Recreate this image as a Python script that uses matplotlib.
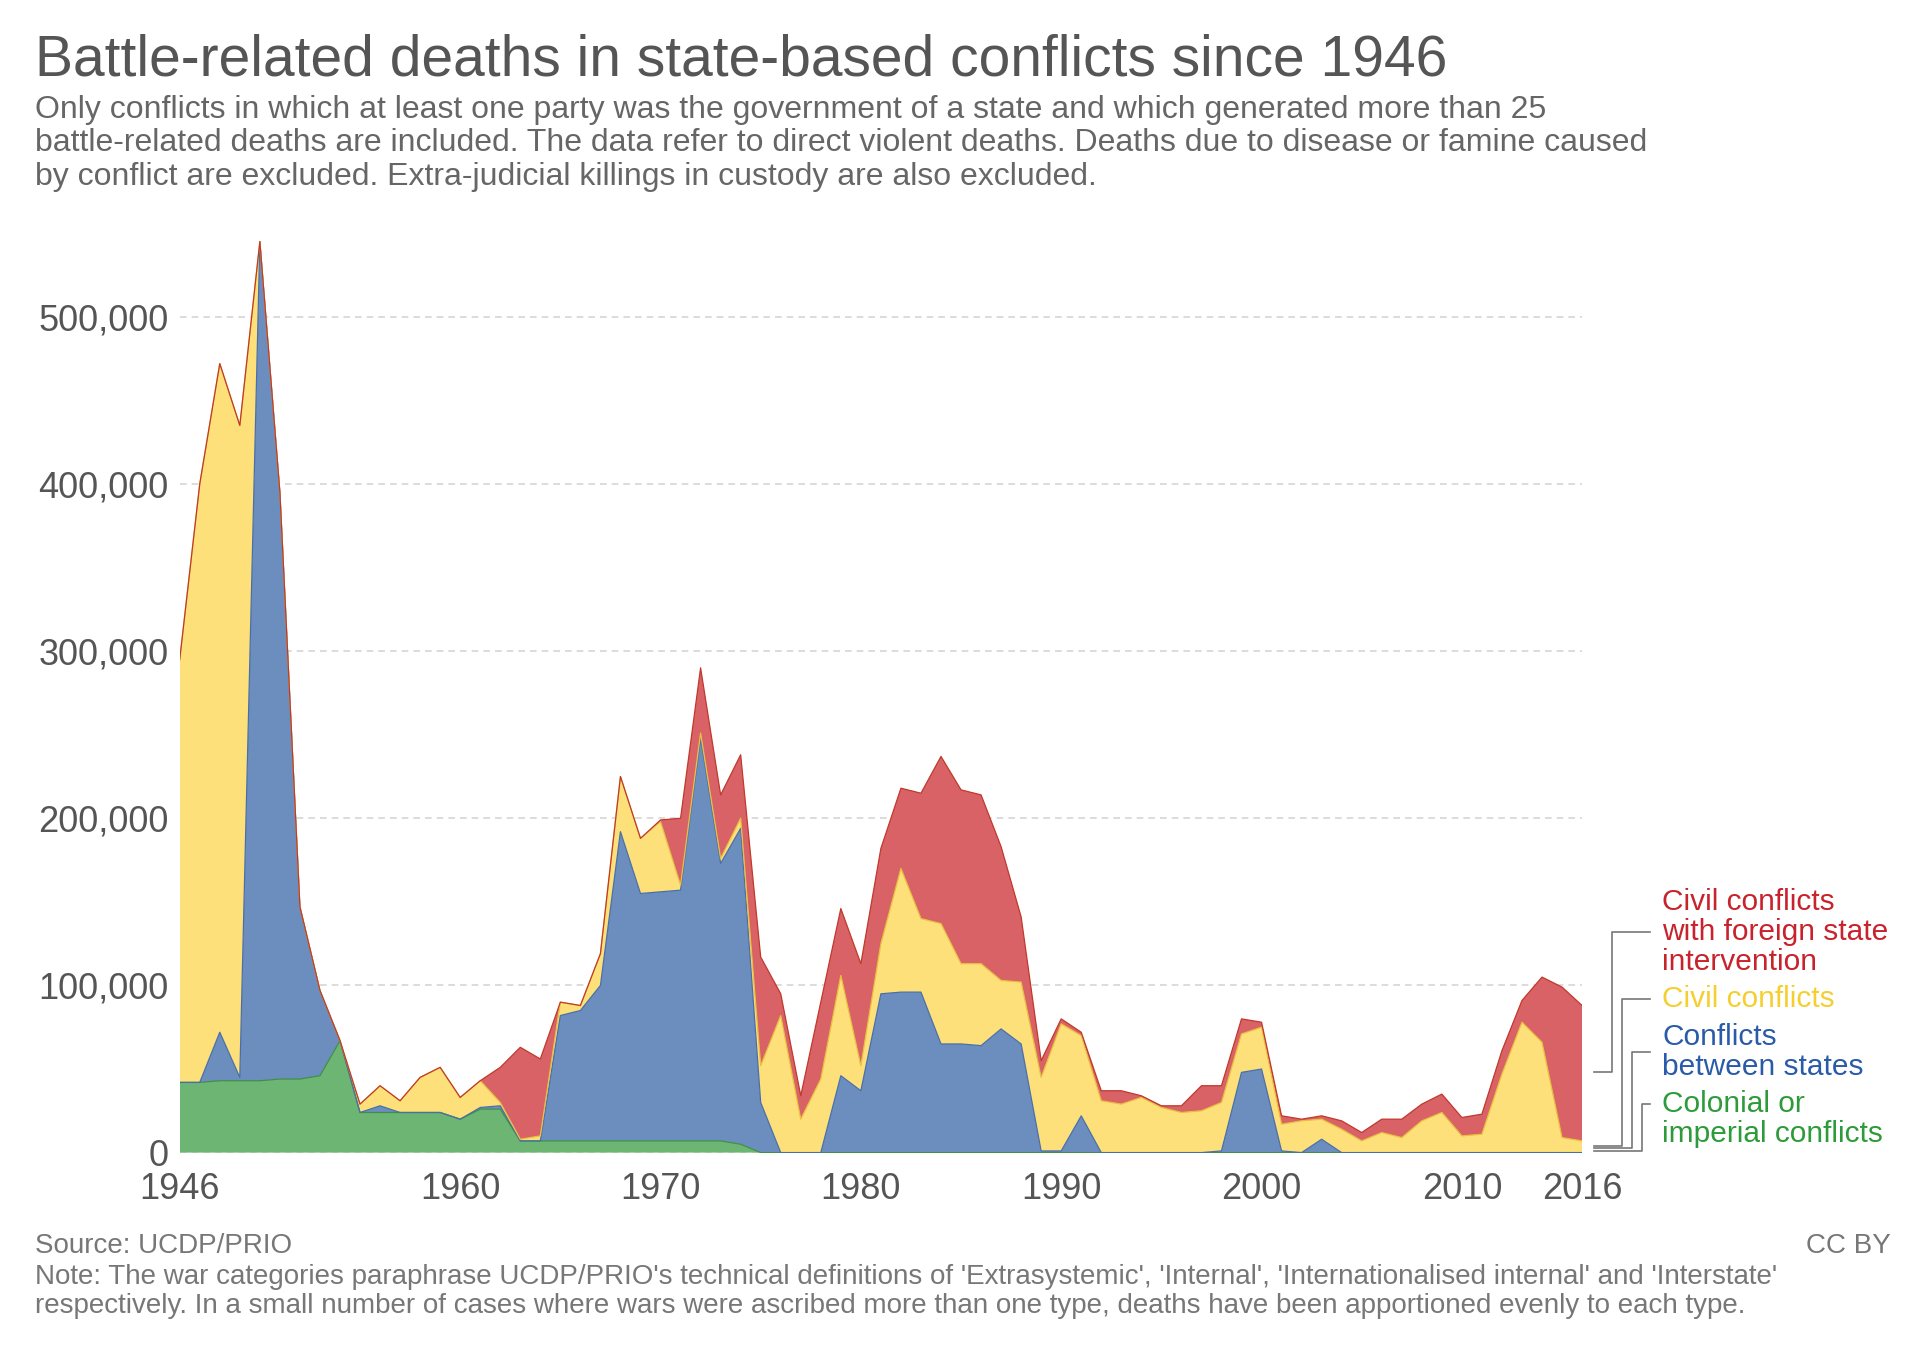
import matplotlib.pyplot as plt
import numpy as np
from matplotlib.ticker import FuncFormatter

plt.rcParams['font.family'] = ['Liberation Sans', 'DejaVu Sans']

years = np.arange(1946, 2017)

# cumulative tops (thousands)
green_top = [42, 42, 43, 43, 43, 44, 44, 46, 67, 24, 24, 24, 24, 24, 20, 26, 26, 7, 7, 7,
             7, 7, 7, 7, 7, 7, 7, 7, 5, 0, 0, 0, 0, 0, 0, 0, 0, 0, 0, 0,
             0, 0, 0, 0, 0, 0, 0, 0, 0, 0, 0, 0, 0, 0, 0, 0, 0, 0, 0, 0,
             0, 0, 0, 0, 0, 0, 0, 0, 0, 0, 0]
blue_top = [42, 42, 72, 45, 545, 395, 147, 97, 67, 24, 28, 24, 24, 24, 20, 27, 28, 7, 7, 82,
            85, 100, 192, 155, 156, 157, 248, 173, 194, 30, 0, 0, 0, 46, 37, 95, 96, 96, 65, 65,
            64, 74, 65, 1, 1, 22, 0, 0, 0, 0, 0, 0, 1, 48, 50, 1, 0, 8, 0, 0,
            0, 0, 0, 0, 0, 0, 0, 0, 0, 0, 0]
yellow_top = [295, 400, 472, 435, 545, 395, 147, 97, 67, 29, 40, 31, 45, 51, 33, 43, 30, 8, 10, 90,
              88, 119, 225, 188, 198, 160, 251, 176, 200, 52, 82, 20, 44, 106, 52, 125, 170, 140, 137, 113,
              113, 103, 102, 45, 77, 70, 31, 29, 33, 27, 24, 25, 30, 71, 75, 17, 19, 20, 14, 7,
              12, 9, 19, 24, 10, 11, 47, 78, 66, 9, 7]
red_top = [295, 400, 472, 435, 545, 395, 147, 97, 67, 29, 40, 31, 45, 51, 33, 43, 51, 63, 56, 90,
           88, 119, 225, 188, 199, 200, 290, 214, 238, 117, 95, 34, 90, 146, 113, 182, 218, 215, 237, 217,
           214, 183, 141, 55, 80, 72, 37, 37, 34, 28, 28, 40, 40, 80, 78, 22, 20, 22, 19, 12,
           20, 20, 29, 35, 21, 23, 61, 91, 105, 99, 88]

colonial = np.array(green_top) * 1000
interstate = (np.array(blue_top) - np.array(green_top)) * 1000
civil = (np.array(yellow_top) - np.array(blue_top)) * 1000
intl = (np.array(red_top) - np.array(yellow_top)) * 1000

fills = ['#6db572', '#6c8ebf', '#fee07a', '#d96266']
edges = ['#3f8f47', '#4a6fa8', '#e8c040', '#c0392b']
label_cols = ['#2e9b3a', '#2a5ba8', '#f5cf2f', '#c8232c']

fig = plt.figure(figsize=(19.2, 13.56), dpi=100)
ax = fig.add_axes([0.0936, 0.15, 0.7304, 0.678])

series = [colonial, interstate, civil, intl]
base = np.zeros(len(years))
for s, fc, ec in zip(series, fills, edges):
    ax.fill_between(years, base, base + s, facecolor=fc, edgecolor='none', zorder=2)
    ax.plot(years, base + s, color=ec, lw=0.9, zorder=3)
    base = base + s

ax.set_xlim(1946, 2016)
ax.set_ylim(0, 550000)
ax.set_yticks(np.arange(0, 500001, 100000))
ax.yaxis.set_major_formatter(FuncFormatter(lambda v, p: f'{int(v):,}'))
ax.set_xticks([1946, 1960, 1970, 1980, 1990, 2000, 2010, 2016])
ax.grid(axis='y', color='#d5d5d5', ls=(0, (4, 3)), lw=1.2, zorder=0)
for sp in ax.spines.values():
    sp.set_visible(False)
ax.tick_params(length=0, labelsize=26, colors='#555555', pad=8)
ax.tick_params(axis='x', pad=14)

# legend labels with connectors
bottom_y = [1000, 2500, 4000, 48000]
end_y = [29000, 60000, 92000, 132000]
xs_start = 2016.6
xs_end = 2019.4
conn_x = [2019.0, 2018.5, 2018.0, 2017.5]
for cx, by, ey in zip(conn_x, bottom_y, end_y):
    ax.plot([xs_start, cx, cx, xs_end], [by, by, ey, ey], color='#777777', lw=1.2, clip_on=False)

labels = ['Colonial or\nimperial conflicts', 'Conflicts\nbetween states', 'Civil conflicts',
          'Civil conflicts\nwith foreign state\nintervention']
label_y = [20000, 60000, 92000, 132000]
for t, y, c in zip(labels, label_y, label_cols):
    ax.text(2020.0, y, t, color=c, fontsize=21.5, va='center', ha='left', linespacing=1.1, clip_on=False)

fig.text(0.018, 0.975, 'Battle-related deaths in state-based conflicts since 1946',
         fontsize=41, color='#555555', va='top')
fig.text(0.018, 0.930,
         'Only conflicts in which at least one party was the government of a state and which generated more than 25\n'
         'battle-related deaths are included. The data refer to direct violent deaths. Deaths due to disease or famine caused\n'
         'by conflict are excluded. Extra-judicial killings in custody are also excluded.',
         fontsize=23, color='#666666', va='top', linespacing=1.15)
fig.text(0.018, 0.081, 'Source: UCDP/PRIO', fontsize=20, color='#777777', va='center')
fig.text(0.985, 0.081, 'CC BY', fontsize=20, color='#777777', va='center', ha='right')
fig.text(0.018, 0.068,
         "Note: The war categories paraphrase UCDP/PRIO's technical definitions of 'Extrasystemic', 'Internal', 'Internationalised internal' and 'Interstate'\n"
         "respectively. In a small number of cases where wars were ascribed more than one type, deaths have been apportioned evenly to each type.",
         fontsize=20, color='#777777', va='top', linespacing=1.15)

fig.savefig('out.png', dpi=100)
